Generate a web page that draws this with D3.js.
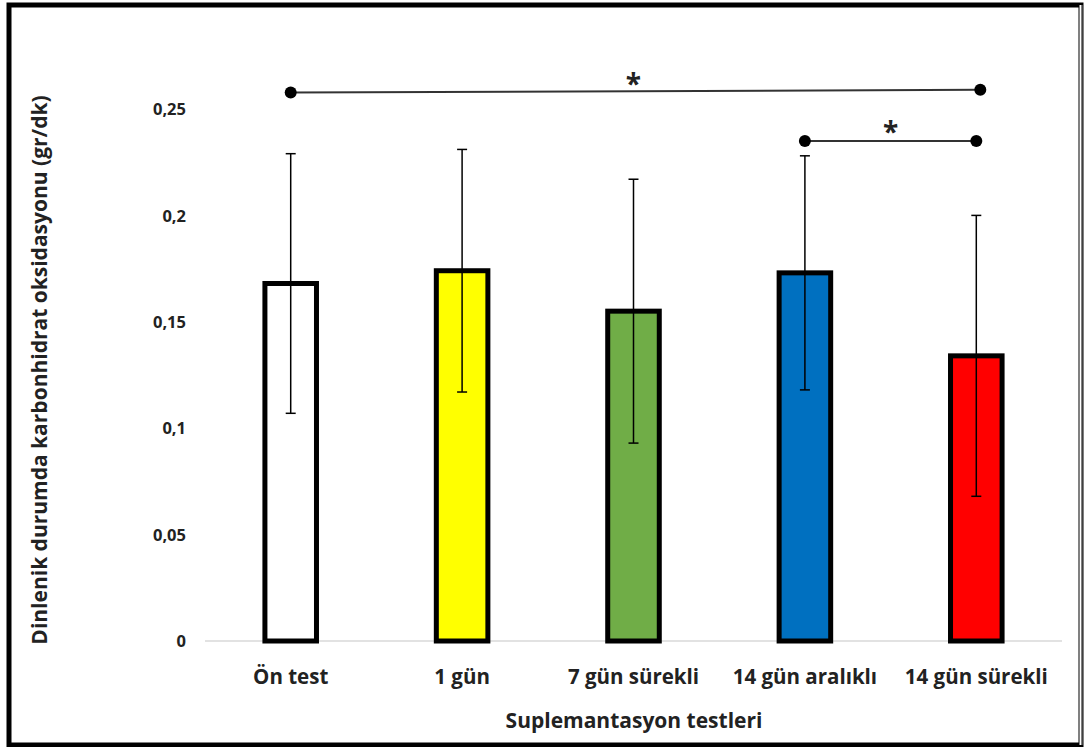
<!DOCTYPE html>
<html>
<head>
<meta charset="utf-8">
<script src="https://cdn.jsdelivr.net/npm/d3@7"></script>
<style>
  html, body { margin: 0; padding: 0; background: #fff; }
  svg { display: block; }
  text { font-family: "Open Sans", "Noto Sans", sans-serif; font-weight: bold; fill: #222; }
</style>
</head>
<body>
<svg id="chart" width="1084" height="747"></svg>
<script>
const categories = ["Ön test", "1 gün", "7 gün sürekli", "14 gün aralıklı", "14 gün sürekli"];
const means = [0.168, 0.174, 0.155, 0.173, 0.134];
const sds = [0.061, 0.057, 0.062, 0.055, 0.066];
const fills = ["#ffffff", "#ffff00", "#70ad47", "#0070c0", "#ff0000"];
const yTicks = [0, 0.05, 0.1, 0.15, 0.2, 0.25];
const yTickLabels = ["0", "0,05", "0,1", "0,15", "0,2", "0,25"];
// significance brackets: from category, to category, y at left, y at right, star height
const sigPairs = [
  { from: 0, to: 4, y1: 0.2577, y2: 0.2590, star: 0.2645 },
  { from: 3, to: 4, y1: 0.2350, y2: 0.2350, star: 0.2420 }
];

const svg = d3.select("#chart");

// outer frame
svg.append("rect")
  .attr("x", 9).attr("y", 5)
  .attr("width", 1072).attr("height", 740)
  .attr("fill", "none")
  .attr("stroke", "#000")
  .attr("stroke-width", 5);
svg.append("line")
  .attr("x1", 1081).attr("x2", 1081).attr("y1", 5).attr("y2", 745)
  .attr("stroke", "#fff").attr("stroke-width", 3);
svg.append("line")
  .attr("x1", 1082).attr("x2", 1082).attr("y1", 5).attr("y2", 745)
  .attr("stroke", "#000").attr("stroke-width", 1);

const margin = { left: 205, right: 22, top: 109, bottom: 106 };
const x = d3.scaleBand()
  .domain(categories)
  .range([margin.left, 1084 - margin.right])
  .paddingInner(0.67)
  .paddingOuter(0.335);

const y = d3.scaleLinear()
  .domain([0, 0.25])
  .range([641, 109]);

// baseline
svg.append("line")
  .attr("x1", margin.left).attr("x2", 1062)
  .attr("y1", y(0)).attr("y2", y(0))
  .attr("stroke", "#d9d9d9").attr("stroke-width", 1.5);

// y axis labels
const yAxis = d3.axisLeft(y)
  .tickValues(yTicks)
  .tickFormat((d, i) => yTickLabels[i])
  .tickSize(0)
  .tickPadding(0);
const ya = svg.append("g")
  .attr("transform", "translate(186,0)")
  .call(yAxis);
ya.select(".domain").remove();
ya.selectAll("text")
  .attr("font-size", 16.5)
  .attr("font-family", "Open Sans, sans-serif")
  .attr("font-weight", "bold")
  .attr("fill", "#222")
  .attr("dy", "0.35em");

// x axis labels
const xAxis = d3.axisBottom(x).tickSize(0).tickPadding(0);
const xa = svg.append("g")
  .attr("transform", `translate(0,${y(0)})`)
  .call(xAxis);
xa.select(".domain").remove();
xa.selectAll("text")
  .attr("font-size", 20.5)
  .attr("font-family", "Open Sans, sans-serif")
  .attr("font-weight", "bold")
  .attr("fill", "#222")
  .attr("y", 43)
  .attr("dy", "0");

// bars
const sw = 5;
svg.selectAll("rect.bar")
  .data(categories)
  .enter()
  .append("rect")
  .attr("class", "bar")
  .attr("x", d => x(d) + sw / 2)
  .attr("y", (d, i) => y(means[i]))
  .attr("width", x.bandwidth() - sw)
  .attr("height", (d, i) => y(0) - y(means[i]))
  .attr("fill", (d, i) => fills[i])
  .attr("stroke", "#000")
  .attr("stroke-width", sw);

// error bars
const eb = svg.selectAll("g.err")
  .data(categories)
  .enter()
  .append("g")
  .attr("class", "err")
  .attr("transform", d => `translate(${x(d) + x.bandwidth() / 2},0)`);
eb.append("line")
  .attr("y1", (d, i) => y(means[i] - sds[i]))
  .attr("y2", (d, i) => y(means[i] + sds[i]))
  .attr("stroke", "#000").attr("stroke-width", 1.5);
eb.append("line")
  .attr("x1", -5).attr("x2", 5)
  .attr("y1", (d, i) => y(means[i] + sds[i]))
  .attr("y2", (d, i) => y(means[i] + sds[i]))
  .attr("stroke", "#000").attr("stroke-width", 1.5);
eb.append("line")
  .attr("x1", -5).attr("x2", 5)
  .attr("y1", (d, i) => y(means[i] - sds[i]))
  .attr("y2", (d, i) => y(means[i] - sds[i]))
  .attr("stroke", "#000").attr("stroke-width", 1.5);

// significance brackets
const cx = i => x(categories[i]) + x.bandwidth() / 2;
const sg = svg.selectAll("g.sig")
  .data(sigPairs)
  .enter()
  .append("g")
  .attr("class", "sig");
sg.append("line")
  .attr("x1", d => cx(d.from)).attr("x2", d => cx(d.to) + (d.from === 0 ? 4 : 0))
  .attr("y1", d => y(d.y1)).attr("y2", d => y(d.y2))
  .attr("stroke", "#333").attr("stroke-width", 2);
sg.append("circle")
  .attr("cx", d => cx(d.from)).attr("cy", d => y(d.y1))
  .attr("r", 6).attr("fill", "#000");
sg.append("circle")
  .attr("cx", d => cx(d.to) + (d.from === 0 ? 4 : 0)).attr("cy", d => y(d.y2))
  .attr("r", 6).attr("fill", "#000");
sg.append("text")
  .attr("x", d => (cx(d.from) + cx(d.to)) / 2)
  .attr("y", d => y(d.star) + 16)
  .attr("text-anchor", "middle")
  .attr("font-size", 28)
  .text("*");

// axis titles
svg.append("text")
  .attr("x", 634).attr("y", 728)
  .attr("text-anchor", "middle")
  .attr("font-size", 21)
  .text("Suplemantasyon testleri");
svg.append("text")
  .attr("transform", "translate(47,370) rotate(-90)")
  .attr("text-anchor", "middle")
  .attr("font-size", 21)
  .text("Dinlenik durumda karbonhidrat oksidasyonu (gr/dk)");
</script>
</body>
</html>
